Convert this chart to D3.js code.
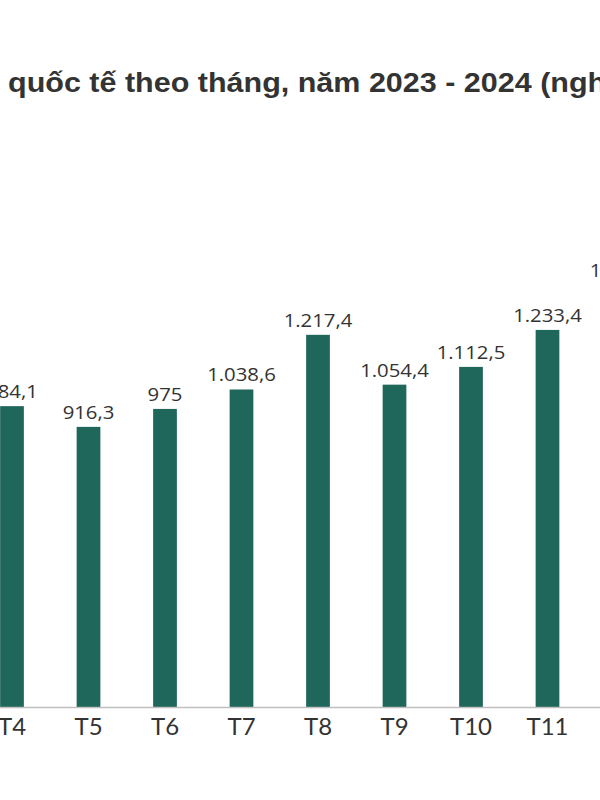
<!DOCTYPE html>
<html><head><meta charset="utf-8">
<script src="https://cdn.jsdelivr.net/npm/d3@7"></script>
<style>html,body{margin:0;padding:0;background:#fff;overflow:hidden}</style>
</head><body>
<svg id="c" width="600" height="800"></svg>
<script>
const titleText = "quốc tế theo tháng, năm 2023 - 2024 (nghìn lượt khách)";
const months = ["T4","T5","T6","T7","T8","T9","T10","T11","T12"];
const values = [984.1, 916.3, 975, 1038.6, 1217.4, 1054.4, 1112.5, 1233.4, 1380];
const valueLabels = ["984,1","916,3","975","1.038,6","1.217,4","1.054,4","1.112,5","1.233,4","1.380,0"];

const stretch = 1.13;
const svg = d3.select("#c");
svg.append("rect").attr("width",600).attr("height",800).attr("fill","#fff");

svg.append("text").attr("transform",`translate(8,92) scale(${stretch},1)`)
  .attr("font-family","Liberation Sans, Arial, sans-serif").attr("font-weight","bold")
  .attr("font-size",27).attr("fill","#333").text(titleText);

const x = d3.scaleBand().domain(months).range([-26.25, 662.25]).paddingInner(0.69).paddingOuter(0.345);
const y = d3.scaleLinear().domain([0,1400]).range([707,279]);

const g = svg.append("g");
g.selectAll("rect.bar").data(values).join("rect").attr("class","bar")
  .attr("x",(d,i)=>x(months[i])).attr("width",x.bandwidth())
  .attr("y",d=>y(d)).attr("height",d=>y(0)-y(d))
  .attr("fill","#1f665b");

g.selectAll("text.val").data(values).join("text").attr("class","val")
  .attr("transform",(d,i)=>`translate(${x(months[i])+x.bandwidth()/2},${y(d)-8}) scale(${stretch},1)`)
  .attr("text-anchor","middle").attr("font-family","Open Sans, sans-serif")
  .attr("font-size",18).attr("fill","#333").text((d,i)=>valueLabels[i]);

const axis = d3.axisBottom(x).tickSize(0).tickPadding(11);
const ax = svg.append("g").attr("transform","translate(0,707)").call(axis);
ax.select(".domain").remove();
svg.append("line").attr("x1",0).attr("x2",600).attr("y1",707.5).attr("y2",707.5)
  .attr("stroke","#bfbfbf").attr("stroke-width",1.5);
ax.selectAll("text").attr("font-family","Lato, sans-serif").attr("font-size",24).attr("fill","#333");
</script>
</body></html>
